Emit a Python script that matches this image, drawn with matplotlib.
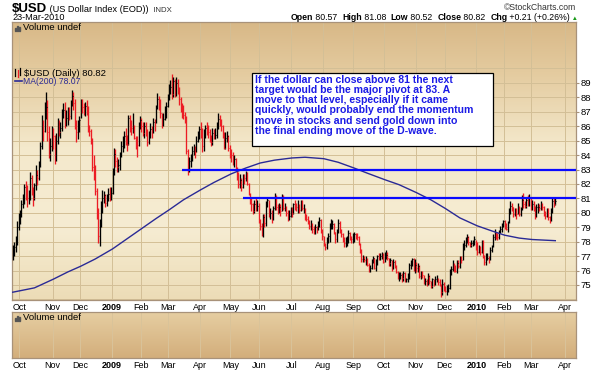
import numpy as np
import pandas as pd
import matplotlib
matplotlib.use('Agg')
import matplotlib.pyplot as plt
from matplotlib.colors import LinearSegmentedColormap
from matplotlib.patches import Rectangle
from matplotlib.lines import Line2D

# ---- data ($USD daily, 24-Sep-2008 .. 23-Mar-2010) ----
first_day = '2008-09-24'
holidays = ['2008-11-27', '2008-12-25', '2009-01-01', '2009-01-19', '2009-02-16',
            '2009-04-10', '2009-05-25', '2009-07-03', '2009-09-07', '2009-11-26',
            '2009-12-25', '2010-01-01', '2010-01-18', '2010-02-15']

closes = [
    77.2, 77.6, 77.9, 79.0, 79.5,  # Sep 08
    79.8, 80.6, 80.9, 81.8, 81.4, 81.0, 81.3, 82.4, 81.6, 81.0, 81.9, 82.6, 82.4, 83.4, 84.6, 86.3, 85.7, 86.6, 87.3, 85.6, 84.1, 84.6, 85.5,
    85.3, 83.8, 85.0, 86.2, 85.6, 85.9, 86.9, 87.1, 86.3, 86.6, 86.9, 86.7, 87.6, 88.1, 87.6, 86.1, 85.6, 85.8, 86.4,
    87.6, 87.3, 87.1, 87.4, 87.2, 85.9, 85.7, 85.1, 83.2, 83.1, 81.5, 80.0, 78.4, 79.2, 80.5, 81.0, 81.2, 80.7, 81.0, 81.3, 81.2, 81.4,
    82.8, 84.1, 83.6, 83.2, 83.3, 83.9, 84.6, 84.6, 85.3, 85.0, 84.8, 86.6, 86.0, 85.9, 86.1, 85.2, 84.8, 84.7, 86.1, 86.4,  # Jan 09
    86.0, 85.5, 86.0, 85.6, 84.9, 85.4, 85.8, 85.6, 86.3, 86.0, 87.3, 87.9, 87.4, 86.9, 86.3, 86.5, 87.2, 87.4, 88.0,
    88.6, 88.7, 88.2, 89.1, 88.3, 89.0, 88.5, 87.9, 87.4, 87.1, 86.8, 86.5, 84.3, 83.0, 83.6, 83.7, 84.3, 84.4, 84.2, 85.0, 85.3, 85.8,
    85.7, 84.6, 85.5, 85.9, 85.8, 85.6, 85.3, 84.9, 85.5, 85.4, 85.4, 86.0, 86.5, 86.3, 86.0, 85.5, 84.5, 85.2, 85.3, 84.5, 84.2,
    84.0, 83.6, 83.7, 83.2, 82.6, 82.0, 82.3, 81.8, 82.5, 82.4, 82.7, 82.0, 81.3, 80.8, 80.6, 80.1, 80.6, 80.4, 80.5, 79.4,
    79.1, 78.7, 79.7, 79.3, 80.6, 80.9, 79.9, 80.0, 79.6, 80.3, 81.1, 80.4, 80.2, 80.4, 80.1, 81.1, 80.3, 80.4, 80.0, 79.8, 79.8, 80.1,
    80.0, 80.6, 80.5, 80.4, 80.5, 80.2, 80.6, 80.3, 80.3, 79.7, 79.6, 79.4, 79.1, 79.1, 78.9, 78.7, 79.0, 78.9, 79.2, 79.5, 78.8, 78.4,
    77.8, 77.6, 78.1, 78.4, 79.1, 79.2, 79.2, 78.7, 78.2, 78.7, 79.3, 78.8, 78.5, 78.2, 77.9, 78.1, 78.1, 78.6, 78.3, 78.2, 78.4,
    78.5, 78.4, 78.3, 77.9, 77.3, 76.8, 76.8, 76.7, 76.8, 76.4, 76.1, 76.2, 76.7, 76.9, 76.2, 76.5, 77.0, 76.8, 77.0, 77.0, 76.6,
    77.0, 77.1, 76.9, 76.5, 76.7, 76.2, 76.6, 76.3, 75.9, 75.6, 75.6, 75.7, 75.5, 75.8, 75.3, 75.4, 75.5, 76.4, 76.4, 76.8, 76.1, 76.4,
    76.2, 76.3, 75.6, 75.8, 75.7, 75.2, 75.3, 75.1, 75.6, 75.3, 74.9, 75.4, 75.1, 75.4, 75.5, 75.2, 75.1, 74.5, 75.1, 74.7,
    74.6, 74.7, 74.8, 75.9, 76.1, 76.4, 76.2, 76.0, 76.5, 76.3, 76.8, 76.7, 77.8, 77.8, 78.0, 78.3, 78.0, 77.8, 77.9, 78.0, 78.2, 77.9,
    77.3, 77.6, 77.3, 77.8, 77.0, 76.6, 76.9, 76.9, 76.8, 77.4, 77.7, 78.3, 78.6, 78.5, 78.3, 78.7, 78.9, 79.2, 79.4,  # Jan 10
    79.2, 78.9, 79.3, 80.1, 80.5, 80.4, 79.9, 80.1, 79.9, 80.5, 79.9, 80.3, 80.9, 80.6, 80.5, 80.9, 80.6, 81.0, 80.4,
    80.6, 80.4, 79.7, 80.4, 80.4, 80.3, 80.6, 80.4, 80.0, 79.8, 80.2, 79.7, 79.4, 80.1, 80.8, 80.6, 80.82,
]
highs = [
    77.8, 78.0, 78.4, 79.4, 80.0,
    80.2, 80.9, 81.3, 82.0, 82.2, 81.9, 81.6, 82.8, 82.6, 81.8, 82.1, 83.3, 83.0, 83.6, 84.9, 86.8, 86.4, 87.7, 88.4, 87.8, 86.0, 85.2, 86.0,
    85.9, 85.4, 85.5, 86.6, 86.4, 86.3, 87.2, 87.6, 87.7, 87.1, 87.3, 87.3, 87.8, 88.5, 88.4, 87.9, 86.4, 86.4, 86.7,
    87.9, 87.9, 87.6, 87.7, 87.8, 87.4, 86.1, 85.8, 85.2, 84.0, 83.3, 81.7, 80.3, 79.6, 80.8, 81.6, 81.5, 81.3, 81.3, 81.7, 81.8, 81.8,
    83.1, 84.5, 84.4, 83.9, 83.7, 84.2, 85.0, 85.3, 85.7, 85.9, 85.4, 86.8, 86.8, 86.4, 86.9, 86.1, 85.3, 85.3, 86.3, 86.7,
    86.6, 86.3, 86.3, 86.3, 85.8, 85.7, 86.2, 86.0, 86.6, 86.5, 87.5, 88.3, 88.1, 87.9, 86.9, 86.9, 87.4, 87.7, 88.2,
    88.9, 89.2, 89.6, 89.4, 89.3, 89.4, 89.3, 88.7, 88.0, 87.6, 87.5, 87.0, 86.7, 84.4, 83.9, 84.1, 84.6, 84.8, 84.6, 85.3, 85.7, 86.0,
    86.3, 85.9, 85.8, 86.1, 86.3, 86.1, 85.8, 85.4, 85.9, 85.8, 85.9, 86.3, 86.9, 86.8, 86.5, 86.1, 85.6, 85.6, 85.7, 85.4, 84.7,
    84.4, 84.2, 84.0, 83.8, 83.2, 82.8, 82.7, 82.4, 82.7, 82.7, 82.9, 82.8, 82.1, 81.4, 81.0, 80.7, 80.9, 81.0, 80.9, 80.7,
    79.6, 79.3, 79.9, 79.9, 80.8, 81.1, 80.9, 80.3, 80.2, 80.5, 81.4, 81.2, 80.6, 80.7, 80.6, 81.3, 81.2, 80.7, 80.5, 80.2, 80.2, 80.4,
    80.4, 80.7, 80.9, 80.7, 80.9, 80.6, 80.9, 80.9, 80.6, 80.3, 79.9, 79.8, 79.5, 79.5, 79.3, 79.1, 79.2, 79.1, 79.4, 79.7, 79.6, 78.9,
    78.4, 77.9, 78.3, 78.6, 79.3, 79.6, 79.5, 79.3, 78.7, 78.9, 79.6, 79.4, 78.9, 78.6, 78.3, 78.3, 78.4, 78.8, 78.7, 78.4, 78.6,
    78.7, 78.6, 78.6, 78.4, 77.9, 77.5, 77.1, 77.0, 77.0, 76.9, 76.5, 76.4, 76.8, 77.0, 76.9, 76.8, 77.1, 77.2, 77.2, 77.3, 77.2,
    77.3, 77.4, 77.3, 76.9, 76.9, 76.7, 76.8, 76.7, 76.4, 76.0, 75.9, 75.9, 75.8, 76.0, 75.9, 75.5, 75.8, 76.5, 76.7, 76.9, 76.9, 76.8,
    76.6, 76.5, 76.4, 76.0, 76.0, 75.7, 75.5, 75.4, 75.8, 75.7, 75.3, 75.5, 75.4, 75.6, 75.7, 75.5, 75.4, 75.1, 75.4, 75.2,
    74.9, 75.0, 75.1, 76.1, 76.3, 76.7, 76.5, 76.4, 76.7, 76.7, 77.0, 77.0, 77.9, 78.1, 78.3, 78.5, 78.4, 78.0, 78.1, 78.1, 78.4, 78.1,
    78.0, 77.8, 77.7, 78.1, 78.1, 77.1, 77.2, 77.2, 77.0, 77.6, 77.8, 78.5, 78.9, 78.7, 78.6, 78.8, 79.1, 79.3, 79.5,
    79.5, 79.3, 79.4, 80.3, 80.8, 80.7, 80.4, 80.3, 80.3, 80.7, 80.5, 80.4, 81.2, 81.4, 80.8, 81.0, 81.2, 81.3, 81.0,
    80.9, 80.8, 80.5, 80.6, 80.7, 80.6, 80.8, 80.7, 80.5, 80.1, 80.3, 80.3, 79.8, 80.3, 81.1, 81.0, 81.08,
]
lows = [
    76.7, 77.0, 77.3, 77.8, 78.8,
    79.2, 79.7, 80.3, 80.6, 80.9, 80.4, 80.6, 80.9, 81.2, 80.5, 80.9, 81.6, 81.9, 82.3, 83.2, 84.4, 85.0, 85.6, 86.5, 85.0, 83.8, 83.6, 84.3,
    84.4, 83.4, 83.6, 84.8, 85.3, 85.2, 85.7, 86.6, 85.9, 86.0, 86.1, 86.4, 86.5, 87.4, 87.1, 85.8, 84.9, 85.1, 85.6,
    86.6, 86.9, 86.8, 86.7, 86.8, 85.6, 85.3, 84.8, 82.9, 82.3, 81.2, 79.6, 77.9, 77.7, 79.0, 80.0, 80.7, 80.4, 80.5, 80.8, 80.8, 80.9,
    81.3, 82.6, 83.2, 82.8, 82.8, 83.0, 83.9, 84.2, 84.5, 84.7, 84.3, 84.7, 85.6, 85.4, 85.5, 85.1, 84.4, 83.9, 84.6, 85.8,
    85.6, 85.3, 85.2, 85.3, 84.6, 84.8, 85.2, 85.2, 85.5, 85.7, 86.2, 87.2, 87.1, 86.6, 85.9, 86.0, 86.4, 86.6, 87.3,
    87.8, 88.2, 87.9, 88.0, 88.0, 88.1, 88.2, 87.5, 87.0, 86.6, 86.5, 86.2, 84.1, 82.6, 82.8, 83.2, 83.6, 84.0, 83.8, 84.2, 84.9, 85.1,
    85.2, 84.2, 84.3, 85.2, 85.4, 85.2, 84.9, 84.6, 84.7, 85.1, 85.1, 85.2, 85.8, 86.0, 85.7, 85.2, 84.4, 84.4, 84.9, 84.3, 83.8,
    83.5, 83.3, 83.2, 82.9, 82.3, 81.7, 81.7, 81.5, 81.7, 82.0, 82.2, 81.9, 81.2, 80.6, 80.1, 79.9, 80.0, 80.1, 80.1, 79.3,
    78.8, 78.4, 78.3, 79.0, 79.1, 80.4, 79.7, 79.6, 79.3, 79.5, 80.2, 80.2, 79.9, 80.0, 79.8, 80.1, 80.2, 80.1, 79.8, 79.4, 79.5, 79.7,
    79.7, 79.9, 80.2, 80.1, 80.0, 80.0, 80.1, 80.2, 80.0, 79.5, 79.4, 79.2, 78.9, 78.8, 78.6, 78.5, 78.5, 78.6, 78.8, 79.0, 78.6, 78.1,
    77.7, 77.4, 77.5, 77.9, 78.0, 78.9, 78.9, 78.5, 77.9, 78.0, 78.6, 78.6, 78.3, 78.0, 77.6, 77.6, 77.7, 77.9, 78.1, 77.9, 77.9,
    78.0, 78.2, 78.1, 77.8, 77.2, 76.6, 76.6, 76.6, 76.4, 76.3, 75.9, 75.9, 76.1, 76.5, 76.1, 76.0, 76.4, 76.7, 76.7, 76.8, 76.5,
    76.6, 76.8, 76.7, 76.3, 76.3, 76.0, 76.1, 76.2, 75.8, 75.4, 75.3, 75.4, 75.2, 75.3, 75.2, 75.2, 75.2, 75.4, 76.1, 76.3, 76.0, 75.8,
    75.9, 75.9, 75.5, 75.4, 75.5, 75.1, 75.0, 74.9, 75.0, 75.1, 74.8, 74.8, 74.9, 75.0, 75.2, 75.0, 74.9, 74.2, 74.3, 74.6,
    74.5, 74.3, 74.5, 74.7, 75.7, 76.0, 75.9, 75.9, 75.8, 76.2, 76.2, 76.5, 76.7, 77.4, 77.6, 77.9, 77.8, 77.6, 77.6, 77.7, 77.8, 77.4,
    77.1, 77.2, 77.1, 77.2, 76.9, 76.4, 76.4, 76.7, 76.5, 76.7, 77.3, 77.6, 78.1, 78.2, 78.1, 78.2, 78.6, 78.7, 79.0,
    78.9, 78.8, 78.7, 79.3, 79.9, 80.1, 79.7, 79.8, 79.6, 79.9, 79.8, 79.8, 80.2, 80.3, 80.3, 80.3, 80.5, 80.5, 80.2,
    80.2, 80.1, 79.6, 79.7, 80.0, 80.1, 80.2, 80.2, 79.8, 79.6, 79.7, 79.5, 79.3, 79.4, 80.0, 80.4, 80.52,
]

# 200-day moving average, read at a few dates along the curve
ma_dates = ['2008-09-24', '2008-10-01', '2008-10-15', '2008-11-03', '2008-11-17', '2008-12-01',
            '2008-12-15', '2009-01-02', '2009-01-16', '2009-02-02', '2009-02-17', '2009-03-02',
            '2009-03-16', '2009-04-01', '2009-04-15', '2009-05-01', '2009-05-15', '2009-06-01',
            '2009-06-15', '2009-07-01', '2009-07-15', '2009-08-03', '2009-08-17', '2009-09-01',
            '2009-09-15', '2009-10-01', '2009-10-15', '2009-11-02', '2009-11-16', '2009-12-01',
            '2009-12-15', '2010-01-04', '2010-01-19', '2010-02-01', '2010-02-16', '2010-03-01',
            '2010-03-23']
ma_values = [74.5, 74.6, 74.8, 75.4, 75.9, 76.3, 76.8, 77.5, 78.2, 78.9, 79.6, 80.2, 80.9, 81.6,
             82.1, 82.7, 83.1, 83.45, 83.65, 83.8, 83.85, 83.75, 83.5, 83.1, 82.75, 82.3, 81.95,
             81.4, 80.9, 80.3, 79.65, 79.1, 78.75, 78.45, 78.25, 78.15, 78.07]

# hand-drawn resistance lines
level_values = [83, 81]
level_start = ['2009-03-13', '2009-05-13']

month_labels = ['Oct', 'Nov', 'Dec', '2009', 'Feb', 'Mar', 'Apr', 'May', 'Jun', 'Jul', 'Aug',
                'Sep', 'Oct', 'Nov', 'Dec', '2010', 'Feb', 'Mar', 'Apr']
y_ticks = list(range(75, 90))

note = ("If the dollar can close above 81 the next\n"
        "target would be the major pivot at 83. A\n"
        "move to that level, especially if it came\n"
        "quickly, would probably end the momentum\n"
        "move in stocks and send gold down into\n"
        "the final ending move of the D-wave.")

# ---- figure layout (pixel helpers) ----
W, H = 600, 372
fig = plt.figure(figsize=(W / 100, H / 100), dpi=100)
fig.patch.set_facecolor('white')
plt.rcParams['font.family'] = ['Liberation Sans', 'DejaVu Sans']


def fx(px):
    return px / W


def fy(py):
    return 1 - py / H


days = pd.bdate_range(first_day, '2010-04-30')
days = days[~days.isin(pd.to_datetime(holidays))]
n = len(closes)
x = np.arange(n)
month_pos = [i for i in range(1, len(days)) if days[i].month != days[i - 1].month]


def day_index(d):
    return int(np.searchsorted(days, pd.Timestamp(d)))


xlim = (-0.5, 389.3)
ylim = (73.96, 93.22)

main_cmap = LinearSegmentedColormap.from_list(
    'main', [(0, '#d8b887'), (0.18, '#e4cb9f'), (0.45, '#f4e9cc'), (0.75, '#f6ecd2'), (1, '#ecdcb6')])
vol_cmap = LinearSegmentedColormap.from_list('vol', ['#e6cea2', '#d3ae7b'])
grid_col = '#d3bf96'
frame_col = '#a8927a'

# ---- main price panel ----
ax = fig.add_axes([fx(12), fy(300), fx(564), 278 / H])
ax.imshow(np.linspace(0, 1, 256).reshape(-1, 1), cmap=main_cmap, aspect='auto',
          extent=[xlim[0], xlim[1], ylim[0], ylim[1]], origin='upper', zorder=0)
for p in month_pos:
    ax.axvline(p - 0.5, color=grid_col, lw=0.7, zorder=1)
for v in range(74, 91):
    ax.axhline(v, color=grid_col, lw=0.7, zorder=1)

prev = np.concatenate([[closes[0]], closes[:-1]])
bar_colors = ['#000000' if c >= p else '#ec1c24' for c, p in zip(closes, prev)]
ax.vlines(x, lows, highs, colors=bar_colors, lw=0.95, zorder=3)
ax.hlines(closes, x, x + 0.45, colors=bar_colors, lw=0.8, zorder=3)

ma_x = [day_index(d) for d in ma_dates]
ax.plot(ma_x, ma_values, color='#2a2a96', lw=1.0, zorder=4)

for lv, st in zip(level_values, level_start):
    ax.hlines(lv, day_index(st), xlim[1], colors='#0a0aff', lw=1.6, zorder=5)

ax.set_xlim(xlim)
ax.set_ylim(ylim)
ax.yaxis.tick_right()
ax.set_yticks(y_ticks)
ax.set_yticklabels([str(t) for t in y_ticks], fontsize=6.8)
ax.tick_params(axis='y', length=2, pad=1, color=frame_col)
ax.set_xticks([p - 0.5 for p in month_pos])
ax.set_xticklabels(month_labels, fontsize=6.5)
ax.tick_params(axis='x', length=0, pad=2)
for lab in ax.get_xticklabels():
    if lab.get_text() in ('2009', '2010'):
        lab.set_fontweight('bold')
for s in ax.spines.values():
    s.set_color(frame_col)
    s.set_linewidth(0.9)

# panel labels
fig.text(fx(23), fy(28), 'Volume undef', fontsize=6.8, va='center', ha='left')
for i, h in enumerate([3, 5, 4]):
    fig.add_artist(Rectangle((fx(15 + i * 2), fy(31)), fx(1.4), h / H,
                             transform=fig.transFigure, color='#555555'))
fig.text(fx(24), fy(73), '$USD (Daily) 80.82', fontsize=6.8, va='center', ha='left')
for i, (a, b) in enumerate([(69, 76), (70, 77), (68, 75)]):
    fig.add_artist(Line2D([fx(15 + i * 2.5)] * 2, [fy(b), fy(a)], transform=fig.transFigure,
                          color='black' if i != 1 else '#ec1c24', lw=0.9))
fig.add_artist(Line2D([fx(15), fx(22)], [fy(81), fy(81)], transform=fig.transFigure,
                      color='#2a2a96', lw=1.2))
fig.text(fx(23), fy(81), 'MA(200) 78.07', fontsize=6.2, va='center', ha='left', color='#2a2a96')

# annotation box
fig.add_artist(Rectangle((fx(252), fy(146)), fx(241), 73 / H, transform=fig.transFigure,
                         facecolor='white', edgecolor='black', lw=0.9))
fig.text(fx(255), fy(75), note, fontsize=7.6, fontweight='bold', color='#1c1ce6',
         va='top', ha='left', linespacing=1.02)

# ---- lower volume panel ----
ax2 = fig.add_axes([fx(12), fy(358), fx(564), 46 / H])
ax2.imshow(np.linspace(0, 1, 256).reshape(-1, 1), cmap=vol_cmap, aspect='auto',
           extent=[xlim[0], xlim[1], 0, 1], origin='upper', zorder=0)
for p in month_pos:
    ax2.axvline(p - 0.5, color='#d9c39a', lw=0.7, zorder=1)
ax2.set_xlim(xlim)
ax2.set_ylim(0, 1)
ax2.set_yticks([])
ax2.set_xticks([p - 0.5 for p in month_pos])
ax2.set_xticklabels(month_labels, fontsize=6.5)
ax2.tick_params(axis='x', length=0, pad=2)
for lab in ax2.get_xticklabels():
    if lab.get_text() in ('2009', '2010'):
        lab.set_fontweight('bold')
for s in ax2.spines.values():
    s.set_color(frame_col)
    s.set_linewidth(0.9)
fig.text(fx(23), fy(318), 'Volume undef', fontsize=6.8, va='center', ha='left')
for i, h in enumerate([3, 5, 4]):
    fig.add_artist(Rectangle((fx(15 + i * 2), fy(321)), fx(1.4), h / H,
                             transform=fig.transFigure, color='#555555'))

# ---- header ----
renderer = fig.canvas.get_renderer()


def write_row(pieces, x0, y0, right=None):
    # pieces: (text, size, bold, colour); laid out one after another
    texts = []
    cur = x0
    for txt, size, bold, col in pieces:
        t = fig.text(fx(cur), fy(y0), txt, fontsize=size, va='baseline', ha='left',
                     fontweight='bold' if bold else 'normal', color=col)
        cur += t.get_window_extent(renderer).width
        texts.append(t)
    if right is not None:
        shift = right - cur
        for t in texts:
            px0 = t.get_position()[0] * W + shift
            t.set_x(fx(px0))
    return cur


write_row([('$USD', 9.5, True, 'black'), (' (US Dollar Index (EOD))', 6.6, False, 'black'),
           ('  INDX', 5.6, False, '#333333')], 12, 12)
fig.text(fx(12), fy(18), '23-Mar-2010', fontsize=6.6, va='center', ha='left')
fig.text(fx(576), fy(7), '\u00a9StockCharts.com', fontsize=6.2, va='center', ha='right', color='#333333')

write_row([('Open', 6.3, True, 'black'), (' 80.57  ', 6.3, False, 'black'), ('High', 6.3, True, 'black'),
           (' 81.08  ', 6.3, False, 'black'), ('Low', 6.3, True, 'black'), (' 80.52  ', 6.3, False, 'black'),
           ('Close', 6.3, True, 'black'), (' 80.82  ', 6.3, False, 'black'), ('Chg', 6.3, True, 'black'),
           (' +0.21 (+0.26%)', 6.3, False, 'black'), (' \u25b2', 4.5, False, '#1a9a1a')], 300, 20.5, right=578)

fig.savefig('out.png', dpi=100)
